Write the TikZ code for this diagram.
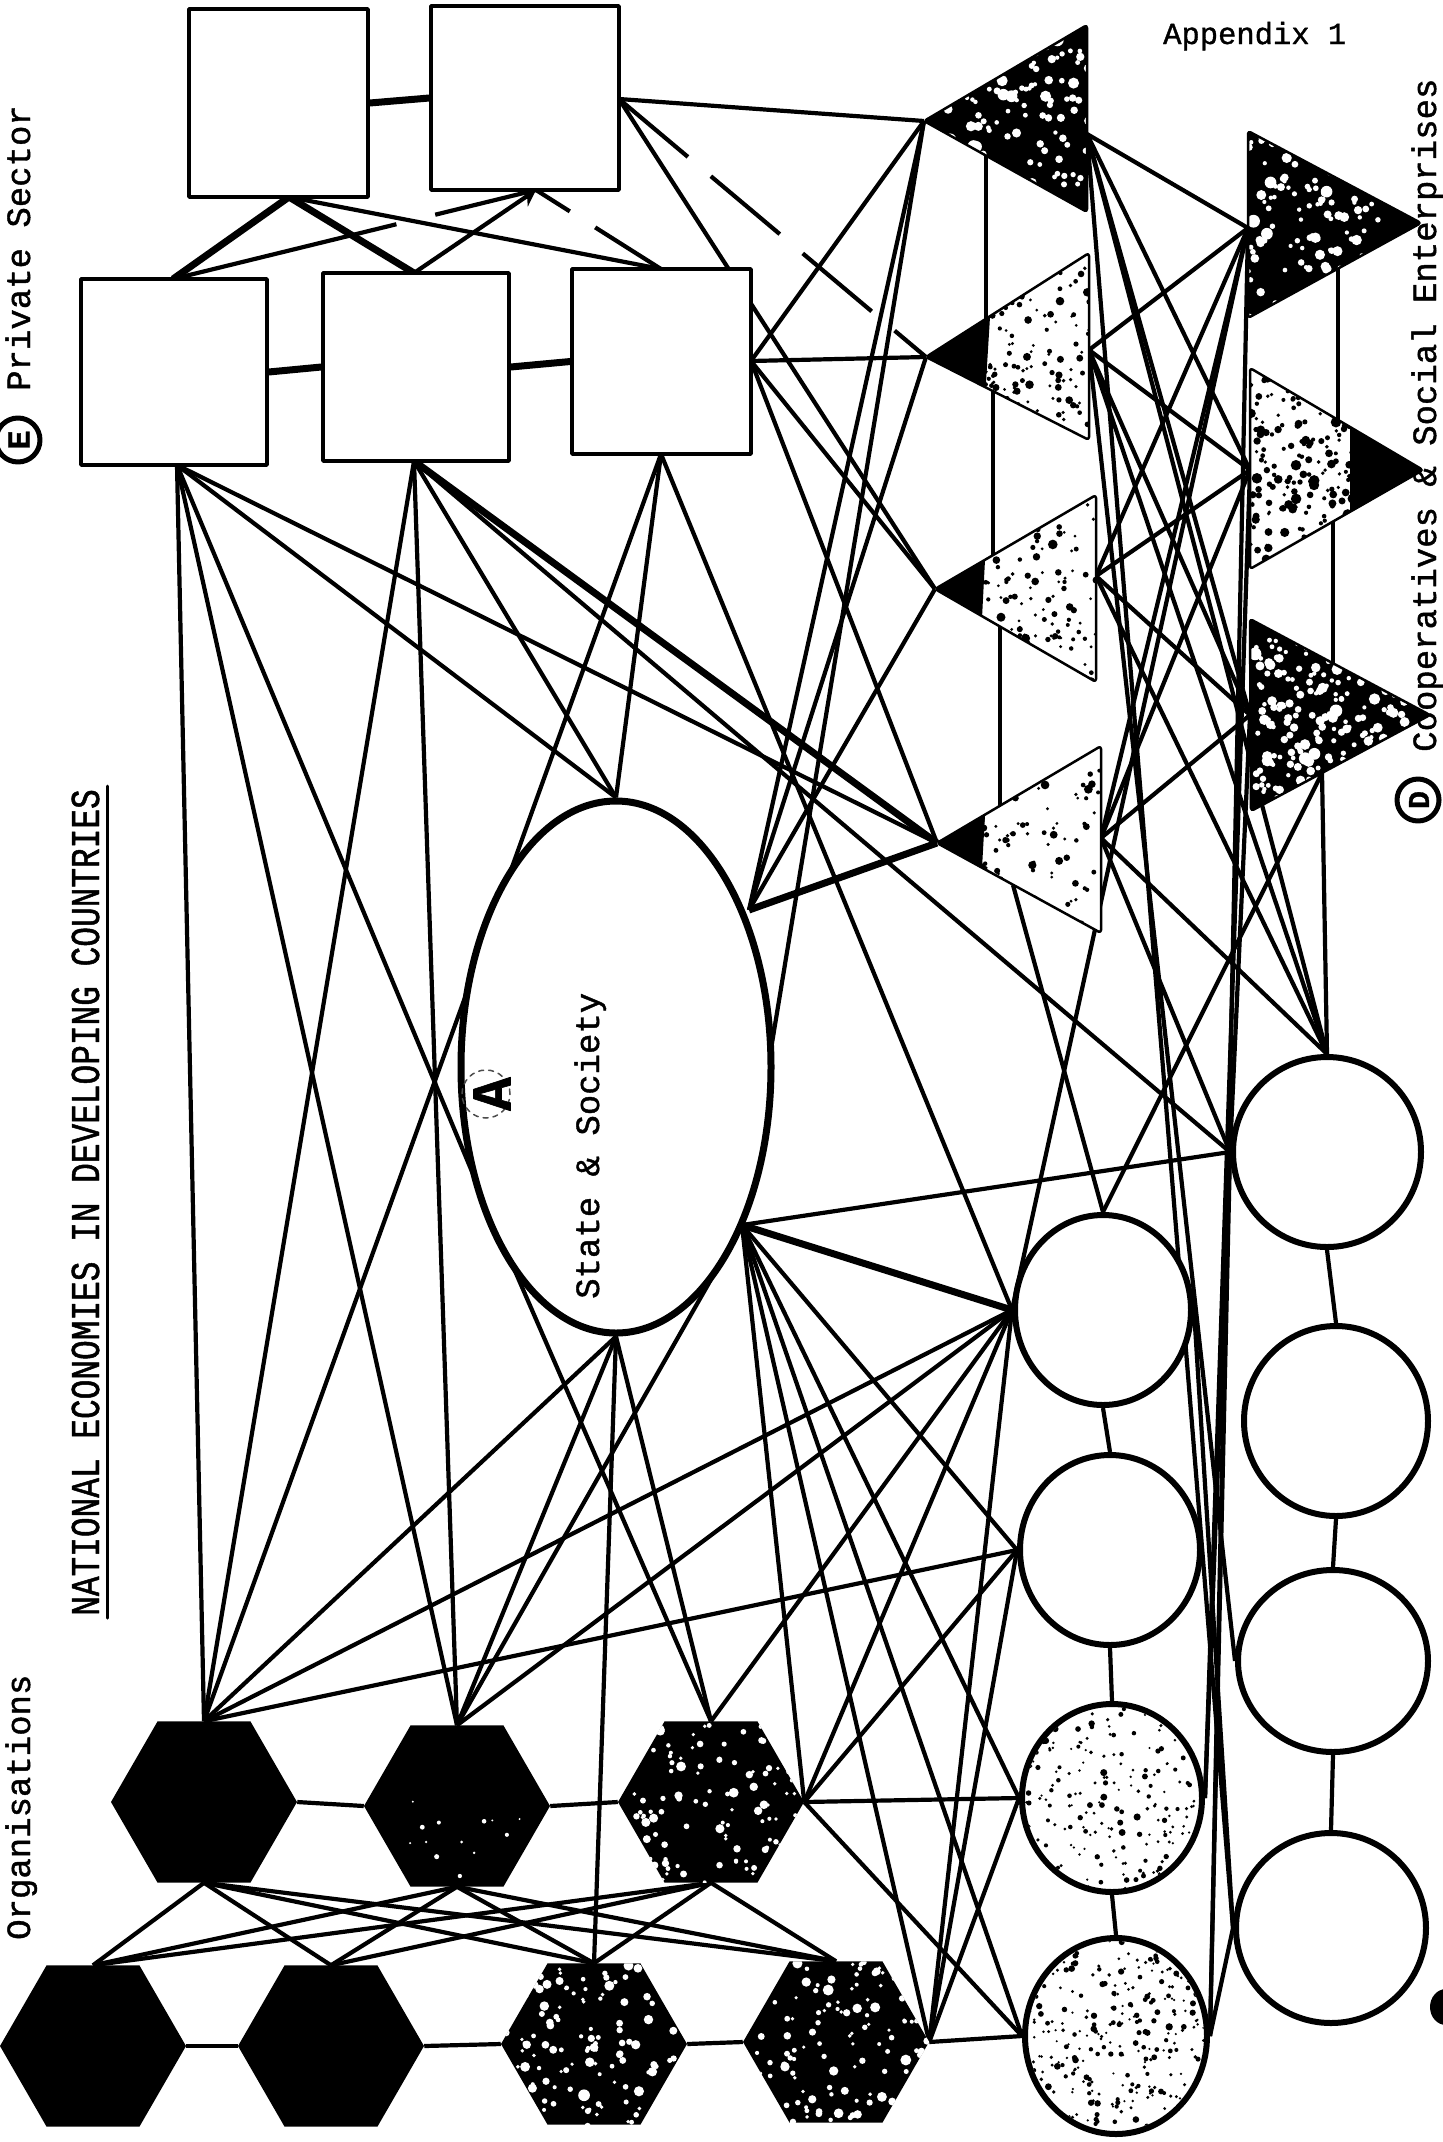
\documentclass[tikz,border=0pt]{standalone}
\usepackage{fontspec}
\setmainfont{Liberation Mono}
\newfontfamily\tw[FakeBold=1.2]{Liberation Mono}
\newfontfamily\twn[FakeStretch=0.8,FakeBold=1.2]{Liberation Mono}
\usetikzlibrary{shapes.geometric,backgrounds,arrows.meta}
% random speckles: xmin, ymin, width, height, count, colour, radius
\newcommand\spk[7]{\foreach \ii in {1,...,#5}{%
  \pgfmathsetmacro\px{#1+rnd*#3}\pgfmathsetmacro\py{#2+rnd*#4}%
  \pgfmathsetmacro\pr{#7*(0.3+0.7*rnd*rnd)}%
  \fill[#6] (\px,\py) circle[radius=\pr pt];}}
\begin{document}
\begin{tikzpicture}[x=1pt,y=-1pt,line cap=round,line join=round,
  ln/.style={line width=4.2pt},
  lnk/.style={line width=7pt},
  pbox/.style={rectangle,draw,line width=3.4pt,fill=white,inner sep=0pt},
  circ/.style={ellipse,draw,line width=6pt,inner sep=0pt,fill=white},
  hexa/.style={regular polygon,regular polygon sides=6,minimum size=186pt,inner sep=0pt,fill=black},
  triout/.style={draw=black,line width=2.5pt,rounded corners=3pt},
  lbl/.style={font=\tw\fontsize{34pt}{36pt}\selectfont,inner sep=0pt}]
\pgfmathsetseed{7}
\useasboundingbox (0,0) rectangle (1443,2142);

% ---------- private sector boxes ----------
\node[pbox,minimum width=179pt,minimum height=188pt] (A1) at (278.5,103) {};
\node[pbox,minimum width=188pt,minimum height=184pt] (A2) at (525,98) {};
\node[pbox,minimum width=186pt,minimum height=186pt] (B1) at (174,372) {};
\node[pbox,minimum width=186pt,minimum height=188pt] (B2) at (416,367) {};
\node[pbox,minimum width=179pt,minimum height=185pt] (B3) at (661.5,361.5) {};
\coordinate (a1b) at (289,197);
\coordinate (a2b) at (536,190);
\coordinate (a2r) at (619,99);
\coordinate (b1t) at (173,279);
\coordinate (b2t) at (414,273);
\coordinate (b3t) at (661,269);
\coordinate (b1b) at (177,465);
\coordinate (b2b) at (414,461);
\coordinate (b3b) at (661,454);
\coordinate (b3r) at (751,361);

% ---------- state & society ----------
\node[ellipse,draw,line width=7pt,fill=white,inner sep=0pt,minimum width=310pt,minimum height=532pt] (S) at (616,1067) {};
\coordinate (eur) at (749,910);
\coordinate (elr) at (742,1225);
\coordinate (el) at (478,1186);
\node[rotate=90,anchor=base west,inner sep=0pt,font=\tw\fontsize{34pt}{36pt}\selectfont] (st) at (599,1299) {State \& Society};
\draw[black!70,line width=1.5pt,dash pattern=on 5pt off 5pt] (486,1094) circle[radius=24pt];
\node[rotate=90,font=\tw\bfseries\fontsize{56pt}{58pt}\selectfont,inner sep=0pt] (la) at (492,1094) {A};

% ---------- cooperatives: triangles ----------
\begin{scope}
\clip (924,121) -- (1087,25) -- (1087,212) -- cycle;
\fill[black] (900,0) rectangle (1110,230);
\spk{935}{25}{155}{190}{170}{white}{7}
\end{scope}
\path[triout] (924,121) -- (1087,25) -- (1087,212) -- cycle;
\begin{scope}
\clip (926,357) -- (1089,253) -- (1089,440) -- cycle;
\fill[white] (900,240) rectangle (1110,450);
\fill[black] (926,357) -- (990,317) -- (985,398) -- cycle;
\spk{926}{253}{165}{190}{220}{black}{5}
\end{scope}
\path[triout] (926,357) -- (1089,253) -- (1089,440) -- cycle;
\begin{scope}
\clip (935,589) -- (1096,495) -- (1096,682) -- cycle;
\fill[white] (900,480) rectangle (1110,700);
\fill[black] (935,589) -- (985,560) -- (982,618) -- cycle;
\spk{935}{495}{162}{190}{170}{black}{5}
\end{scope}
\path[triout] (935,589) -- (1096,495) -- (1096,682) -- cycle;
\begin{scope}
\clip (937,843) -- (1101,746) -- (1101,933) -- cycle;
\fill[white] (900,730) rectangle (1110,950);
\fill[black] (937,843) -- (985,815) -- (982,868) -- cycle;
\spk{937}{746}{165}{190}{130}{black}{5}
\end{scope}
\path[triout] (937,843) -- (1101,746) -- (1101,933) -- cycle;
\begin{scope}
\clip (1248,131) -- (1248,318) -- (1421,223) -- cycle;
\fill[black] (1230,120) rectangle (1430,330);
\spk{1248}{131}{150}{190}{150}{white}{7}
\end{scope}
\path[triout] (1248,131) -- (1248,318) -- (1421,223) -- cycle;
\begin{scope}
\clip (1250,368) -- (1250,569) -- (1423,470) -- cycle;
\fill[white] (1230,350) rectangle (1430,580);
\fill[black] (1423,470) -- (1350,428) -- (1350,512) -- cycle;
\spk{1250}{368}{175}{202}{300}{black}{6}
\end{scope}
\path[triout] (1250,368) -- (1250,569) -- (1423,470) -- cycle;
\begin{scope}
\clip (1250,619) -- (1251,811) -- (1430,715) -- cycle;
\fill[black] (1230,600) rectangle (1440,820);
\spk{1255}{640}{150}{160}{230}{white}{7}
\end{scope}
\path[triout] (1250,619) -- (1251,811) -- (1430,715) -- cycle;
\coordinate (t1a) at (924,121);
\coordinate (t2a) at (926,357);
\coordinate (t3a) at (935,589);
\coordinate (t4a) at (937,843);
\coordinate (t4d) at (1013,885);
\coordinate (t1r) at (1087,134);
\coordinate (t2r) at (1089,350);
\coordinate (t3r) at (1096,576);
\coordinate (t4r) at (1101,838);
\coordinate (u1l) at (1248,228);
\coordinate (u2l) at (1250,470);
\coordinate (u3l) at (1250,715);
\coordinate (u3b) at (1322,773);

% ---------- circles ----------
\node[circ,minimum width=176pt,minimum height=190pt] (L1) at (1103,1310) {};
\node[circ,minimum width=180pt,minimum height=190pt] (L2) at (1110,1550) {};
\node[circ,minimum width=180pt,minimum height=188pt] (L3) at (1112,1798) {};
\node[circ,minimum width=182pt,minimum height=196pt] (L4) at (1116,2036) {};
\node[circ,minimum width=188pt,minimum height=190pt] (R1) at (1327,1152) {};
\node[circ,minimum width=184pt,minimum height=190pt] (R2) at (1336,1421) {};
\node[circ,minimum width=190pt,minimum height=182pt] (R3) at (1333,1661) {};
\node[circ,minimum width=190pt,minimum height=190pt] (R4) at (1331,1928) {};
\begin{scope}
\clip (1112,1798) ellipse [x radius=87pt,y radius=91pt];
\spk{1022}{1704}{180}{188}{220}{black}{4}
\end{scope}
\begin{scope}
\clip (1116,2036) ellipse [x radius=88pt,y radius=95pt];
\spk{1025}{1938}{182}{196}{320}{black}{4}
\end{scope}

% ---------- organisations: hexagons ----------
\node[hexa] (H1a) at (204,1802) {};
\node[hexa] (H1b) at (457,1806) {};
\node[hexa] (H1c) at (711,1802) {};
\node[hexa] (H2a) at (93,2046) {};
\node[hexa] (H2b) at (331,2046) {};
\node[hexa] (H2c) at (594,2044) {};
\node[hexa] (H2d) at (836,2042) {};
\begin{scope}
\clip (H1c.corner 1) -- (H1c.corner 2) -- (H1c.corner 3) -- (H1c.corner 4) -- (H1c.corner 5) -- (H1c.corner 6) -- cycle;
\spk{618}{1722}{186}{162}{110}{white}{6}
\end{scope}
\begin{scope}
\clip (H2c.corner 1) -- (H2c.corner 2) -- (H2c.corner 3) -- (H2c.corner 4) -- (H2c.corner 5) -- (H2c.corner 6) -- cycle;
\spk{501}{1964}{186}{162}{130}{white}{6}
\end{scope}
\begin{scope}
\clip (H2d.corner 1) -- (H2d.corner 2) -- (H2d.corner 3) -- (H2d.corner 4) -- (H2d.corner 5) -- (H2d.corner 6) -- cycle;
\spk{743}{1962}{186}{162}{130}{white}{6}
\end{scope}
\begin{scope}
\clip (H1b.corner 1) -- (H1b.corner 2) -- (H1b.corner 3) -- (H1b.corner 4) -- (H1b.corner 5) -- (H1b.corner 6) -- cycle;
\spk{400}{1800}{120}{80}{14}{white}{3.5}
\end{scope}

% ---------- labels ----------
\node[anchor=base west,inner sep=0pt,font=\tw\fontsize{30.5pt}{34pt}\selectfont] (app) at (1163,44) {Appendix 1};
\node[rotate=90,anchor=base west,inner sep=0pt,font=\twn\fontsize{41pt}{44pt}\selectfont] (title) at (99,1616) {NATIONAL ECONOMIES IN DEVELOPING COUNTRIES};
\draw[line width=3pt] (107,1618) -- (107,786);
\node[lbl,rotate=90,anchor=base west] (org) at (30,1940) {Organisations};
\node[lbl,rotate=90,anchor=base west] (priv) at (30,391) {Private Sector};
\draw[line width=5pt] (18,440) circle[radius=22pt];
\node[rotate=90,inner sep=0pt,font=\tw\bfseries\fontsize{32pt}{34pt}\selectfont] (le) at (19,440) {E};
\node[lbl,rotate=90,anchor=base west] (coop) at (1436,752) {Cooperatives \& Social Enterprises};
\draw[line width=5pt] (1418,800) circle[radius=21pt];
\node[rotate=90,inner sep=0pt,font=\tw\bfseries\fontsize{30pt}{32pt}\selectfont] (ld) at (1419,800) {D};
\fill (1446,2007) ellipse [x radius=16pt,y radius=18pt];

% ---------- connectors (beneath the shapes) ----------
\begin{scope}[on background layer]
\fill[white] (0,0) rectangle (1443,2142);
\draw[lnk] (A1.east) -- (A2.west);
\draw[lnk] (B1.east) -- (B2.west);
\draw[lnk] (B2.east) -- (B3.west);
\draw[lnk] (a1b) -- (b1t);
\draw[lnk] (a1b) -- (b2t);
\draw[ln] (a1b) -- (b3t);
\draw[ln,dash pattern=on 230pt off 40pt] (b1t) -- (a2b);
\draw[ln,-{Stealth[length=16pt,width=18pt]}] (b2t) -- (a2b);
\draw[ln,dash pattern=on 40pt off 30pt on 200pt] (a2b) -- (b3t);
\draw[ln] (a2r) -- (t1a);
\draw[ln,dash pattern=on 90pt off 30pt] (a2r) -- (t2a);
\draw[ln] (a2r) -- (t3a);
\draw[ln] (b3r) -- (t1a);
\draw[ln] (b3r) -- (t2a);
\draw[ln] (b3r) -- (t3a);
\draw[ln] (b3r) -- (t4a);
\draw[ln] (b1b) -- (H1a.north);
\draw[ln] (b1b) -- (H1b.north);
\draw[ln] (b1b) -- (el);
\draw[ln] (b1b) -- (S.north);
\draw[ln] (b1b) -- (t4a);
\draw[ln] (b2b) -- (H1a.north);
\draw[ln] (b2b) -- (H1b.north);
\draw[ln] (b2b) -- (S.north);
\draw[lnk] (b2b) -- (t4a);
\draw[ln] (b2b) -- (R1.west);
\draw[ln] (b3b) -- (H1a.north);
\draw[ln] (b3b) -- (S.north);
\draw[ln] (b3b) -- (L1.west);
\draw[lnk] (eur) -- (t4a);
\draw[ln] (eur) -- (t1a);
\draw[ln] (eur) -- (t2a);
\draw[ln] (eur) -- (t3a);
\draw[ln] (t1a) -- (elr);
\draw[ln] (elr) -- (R1.west);
\draw[lnk] (elr) -- (L1.west);
\draw[ln] (elr) -- (L2.west);
\draw[ln] (elr) -- (L3.west);
\draw[ln] (elr) -- (L4.west);
\draw[ln] (elr) -- (H2d.east);
\draw[ln] (elr) -- (H1c.east);
\draw[ln] (elr) -- (H1b.north);
\draw[ln] (S.south) -- (H1a.north);
\draw[ln] (S.south) -- (H1b.north);
\draw[ln] (S.south) -- (H1c.north);
\draw[ln] (S.south) -- (H2c.north);
\draw[ln] (el) -- (H1c.north);
\draw[ln] (986,156) -- (986,319);
\draw[ln] (993,391) -- (993,555);
\draw[ln] (1000,627) -- (1000,806);
\draw[ln] (1338,269) -- (1338,420);
\draw[ln] (1333,521) -- (1333,663);
\draw[ln] (u3b) -- (R1.north);
\foreach \t in {t1r,t2r,t3r,t4r}{
  \foreach \u in {u1l,u2l,u3l}{
    \draw[ln] (\t) -- (\u);
  }
}
\draw[ln] (t1r) -- (R1.north);
\draw[ln] (t2r) -- (R1.north);
\draw[ln] (t3r) -- (R1.north);
\draw[ln] (t4r) -- (R1.north);
\draw[ln] (t4r) -- (R1.west);
\draw[ln] (t4d) -- (L1.north);
\draw[ln] (u3b) -- (L1.north);
\draw[ln] (u3l) -- (R1.west);
\draw[ln] (u1l) -- (L1.west);
\draw[ln] (u1l) -- (L4.east);
\draw[ln] (u2l) -- (L3.east);
\draw[ln] (t1r) -- (R4.west);
\draw[ln] (t2r) -- (R3.west);
\draw[ln] (R1.west) -- (L4.east);
\draw[ln] (R1.west) -- (L3.east);
\draw[ln] (L1.east) -- (R4.west);
\draw[ln] (L4.east) -- (R4.west);
\draw[ln] (L1.south) -- (L2.north);
\draw[ln] (L2.south) -- (L3.north);
\draw[ln] (L3.south) -- (L4.north);
\draw[ln] (R1.south) -- (R2.north);
\draw[ln] (R2.south) -- (R3.north);
\draw[ln] (R3.south) -- (R4.north);
\draw[ln] (H1a.east) -- (H1b.west);
\draw[ln] (H1b.east) -- (H1c.west);
\draw[ln] (H2a.east) -- (H2b.west);
\draw[ln] (H2b.east) -- (H2c.west);
\draw[ln] (H2c.east) -- (H2d.west);
\foreach \p in {H1a,H1b,H1c}{
  \foreach \q in {H2a,H2b,H2c,H2d}{
    \draw[ln] (\p.south) -- (\q.north);
  }
}
\foreach \c in {L1,L2,L3,L4}{
  \draw[ln] (H1c.east) -- (\c.west);
  \draw[ln] (H2d.east) -- (\c.west);
}
\draw[ln] (H1a.north) -- (L1.west);
\draw[ln] (H1a.north) -- (L2.west);
\draw[ln] (H1b.north) -- (L1.west);
\draw[ln] (H1c.north) -- (L1.west);
\end{scope}
\end{tikzpicture}
\end{document}
